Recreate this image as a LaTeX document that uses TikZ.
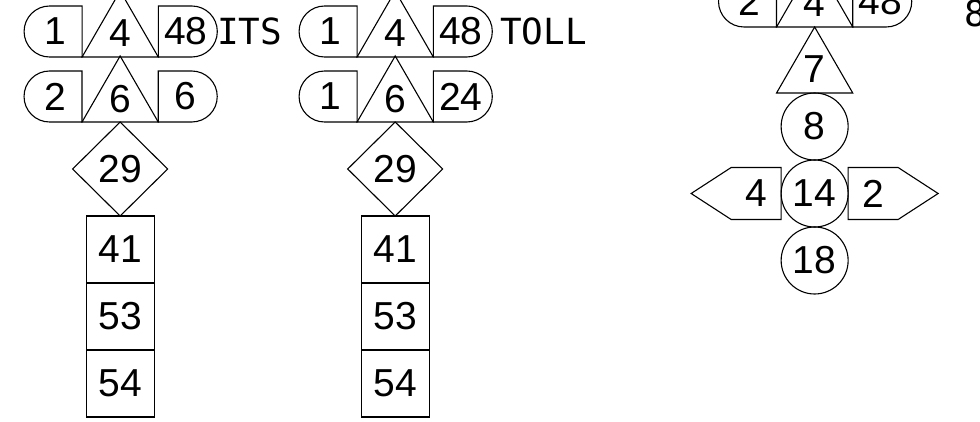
\documentclass[tikz,border=0pt]{standalone}
\usepackage{fontspec}
\setmainfont{Liberation Sans}
\newfontfamily\tagfont{DejaVu Sans Mono}
\usetikzlibrary{shapes.geometric, shapes.misc, shapes.symbols, positioning}

\begin{document}
\begin{tikzpicture}[x=1pt, y=-1pt, line width=1.1pt,
     every node/.style={inner sep=0pt, outer sep=0pt, font=\fontsize{39}{39}\selectfont},
     lcap/.style={rounded rectangle, rounded rectangle right arc=none, draw, minimum width=58pt, minimum height=51pt},
     rcap/.style={rounded rectangle, rounded rectangle left arc=none, draw, minimum width=59pt, minimum height=51pt},
     tri/.style={regular polygon, regular polygon sides=3, draw, minimum size=88pt, text depth=3pt},
     dia/.style={diamond, draw, minimum width=95pt, minimum height=94pt},
     cell/.style={rectangle, draw, minimum width=68pt, minimum height=67pt},
     ring/.style={circle, draw, minimum size=67pt},
     flag/.style={signal, draw, signal pointer angle=66, minimum width=90pt, minimum height=52pt},
     tag/.style={font=\tagfont\fontsize{36}{36}\selectfont}]
     \clip (0,0) rectangle (980,422);
     % ITS column
     \node (a1) [lcap] at (55,31.5) {1};\node (a1t) [tri, anchor=corner 2] at (a1.south east) {4};\node (a1r) [rcap, anchor=south west] at (a1t.corner 3) {48};
     \node (a2) [lcap, below=14pt of a1] {2};\node (a2t) [tri, anchor=corner 2] at (a2.south east) {6};\node (a2r) [rcap, anchor=south west] at (a2t.corner 3) {6};
     \node (a3) [dia, anchor=north] at (a2t.side 2) {29};\node (a4) [cell, below=0pt of a3] {41};
     \node (a5) [cell, below=0pt of a4] {53};\node (a6) [cell, below=0pt of a5] {54};
     \node (its) [tag, right=0pt of a1r] {ITS};
     % TOLL column
     \node (b1) [lcap] at (330,31.5) {1};\node (b1t) [tri, anchor=corner 2] at (b1.south east) {4};\node (b1r) [rcap, anchor=south west] at (b1t.corner 3) {48};
     \node (b2) [lcap, below=14pt of b1] {1};\node (b2t) [tri, anchor=corner 2] at (b2.south east) {6};\node (b2r) [rcap, anchor=south west] at (b2t.corner 3) {24};
     \node (b3) [dia, anchor=north] at (b2t.side 2) {29};\node (b4) [cell, below=0pt of b3] {41};
     \node (b5) [cell, below=0pt of b4] {53};\node (b6) [cell, below=0pt of b5] {54};
     \node (toll) [tag, right=8pt of b1r] {TOLL};
     % right column
     \node (c1) [lcap] at (749.5,1.5) {2};\node (c1t) [tri, anchor=corner 2] at (c1.south east) {4};\node (c1r) [rcap, anchor=south west] at (c1t.corner 3) {48};
     \node (c2) [tri, anchor=corner 1] at (c1t.side 2) {7};\node (c3) [ring, anchor=north] at (c2.side 2) {8};
     \node (c4) [ring, below=0pt of c3] {14};\node (c5) [ring, below=0pt of c4] {18};
     \node (c6) [flag, signal to=west, left=0pt of c4] {4};\node (c7) [flag, signal to=east, right=0pt of c4] {2};
     \node (c8) [tag, anchor=base west] at (964,27) {8};
\end{tikzpicture}
\end{document}
